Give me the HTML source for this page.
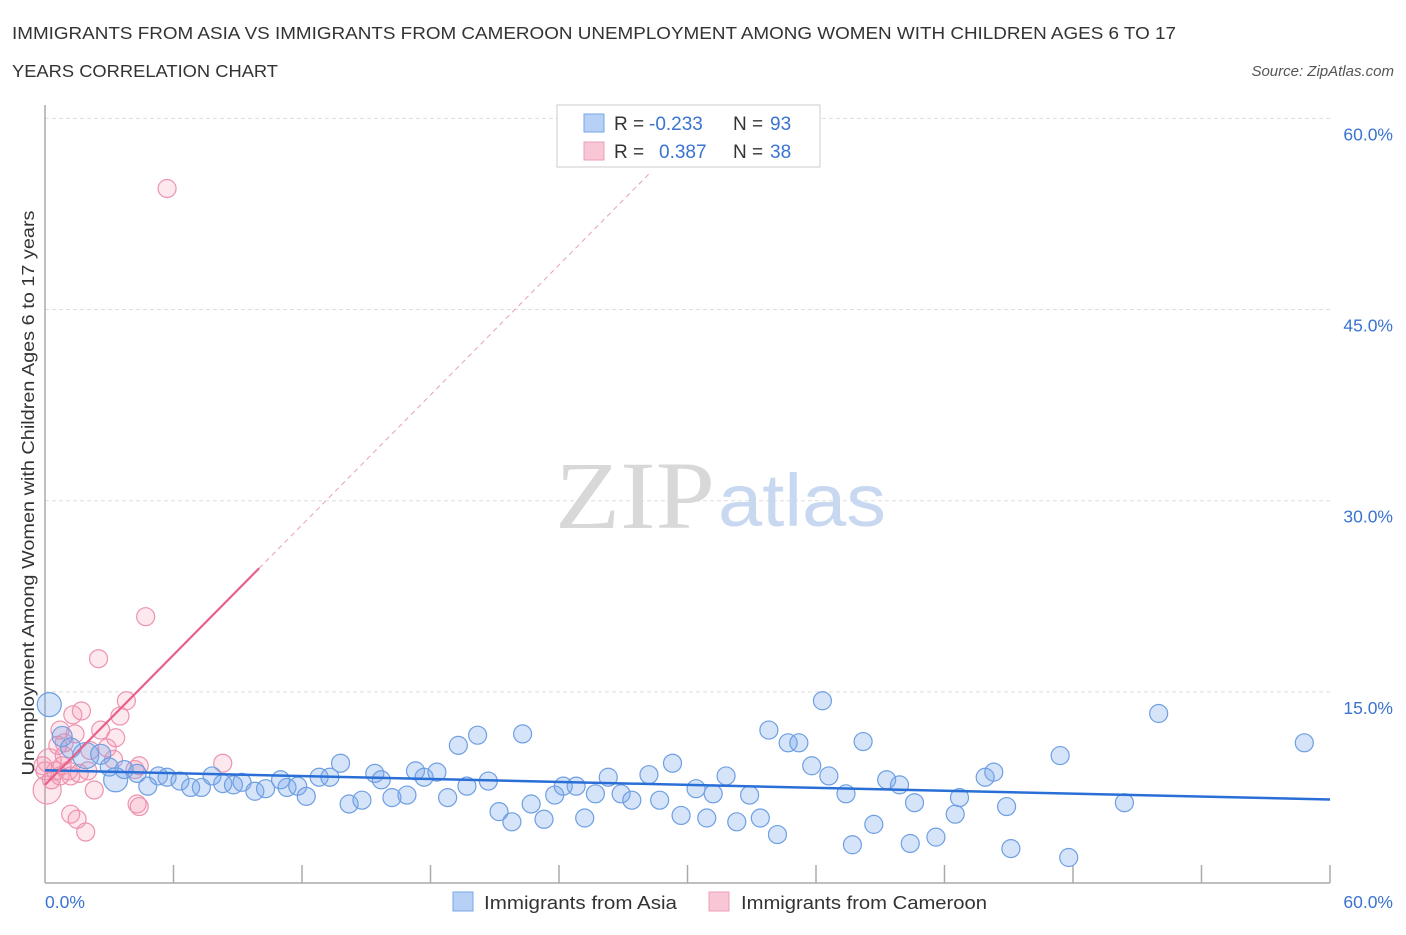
<!DOCTYPE html>
<html><head><meta charset="utf-8"><style>
body{margin:0;background:#fff;font-family:"Liberation Sans",sans-serif;}
</style></head><body>
<svg width="1406" height="930" xmlns="http://www.w3.org/2000/svg">
<text x="12" y="39" font-size="17.5" fill="#333" textLength="1164" lengthAdjust="spacingAndGlyphs">IMMIGRANTS FROM ASIA VS IMMIGRANTS FROM CAMEROON UNEMPLOYMENT AMONG WOMEN WITH CHILDREN AGES 6 TO 17</text>
<text x="12" y="77" font-size="17.5" fill="#333" textLength="266" lengthAdjust="spacingAndGlyphs">YEARS CORRELATION CHART</text>
<text x="1394" y="76" font-size="15" fill="#555" font-style="italic" text-anchor="end">Source: ZipAtlas.com</text>
<g id="grid"></g>
<g>
<text x="555" y="528" font-size="96" font-family="Liberation Serif,serif" fill="#d8d8d8" textLength="160" lengthAdjust="spacingAndGlyphs">ZIP</text>
<text x="718" y="526" font-size="74" fill="#c8d8f0" textLength="168" lengthAdjust="spacingAndGlyphs">atlas</text>
</g>
<line x1="45" y1="105" x2="45" y2="883" stroke="#aaa" stroke-width="1.5"/>
<line x1="45" y1="883" x2="1330" y2="883" stroke="#aaa" stroke-width="1.5"/>
<g id="ticks"></g>
<g id="pts"></g>
<g id="lines"></g>
<text transform="translate(34,493) rotate(-90)" font-size="17.5" fill="#333" text-anchor="middle" textLength="565" lengthAdjust="spacingAndGlyphs">Unemployment Among Women with Children Ages 6 to 17 years</text>
<text x="45" y="908" font-size="17.5" fill="#3a73d0">0.0%</text>
<text x="1393" y="908" font-size="17.5" fill="#3a73d0" text-anchor="end">60.0%</text>
<g>
<rect x="557" y="105" width="263" height="62" fill="#fff" stroke="#ccc"/>
<rect x="584" y="114" width="20" height="18" fill="#b7d0f5" stroke="#7aa6e8"/>
<rect x="584" y="142" width="20" height="18" fill="#f9c6d5" stroke="#ee9fb8"/>
<text x="614" y="130" font-size="19" fill="#333">R =</text>
<text x="649" y="130" font-size="19" fill="#3a73d0">-0.233</text>
<text x="733" y="130" font-size="19" fill="#333">N =</text>
<text x="770" y="130" font-size="19" fill="#3a73d0">93</text>
<text x="614" y="158" font-size="19" fill="#333">R =</text>
<text x="659" y="158" font-size="19" fill="#3a73d0">0.387</text>
<text x="733" y="158" font-size="19" fill="#333">N =</text>
<text x="770" y="158" font-size="19" fill="#3a73d0">38</text>
</g>
<g>
<rect x="453" y="892" width="20" height="19" fill="#b7d0f5" stroke="#7aa6e8"/>
<text x="484" y="909" font-size="18.5" fill="#333" textLength="193" lengthAdjust="spacingAndGlyphs">Immigrants from Asia</text>
<rect x="709" y="892" width="20" height="19" fill="#f9c6d5" stroke="#ee9fb8"/>
<text x="741" y="909" font-size="18.5" fill="#333" textLength="246" lengthAdjust="spacingAndGlyphs">Immigrants from Cameroon</text>
</g>
</svg>
<script>
const yTicks=[15,30,45,60];
const xTicks=[6,12,18,24,30,36,42,48,54,60];
const asiaX=[0.2,0.8,1.2,1.9,2.6,3,3.3,3.7,4.3,4.8,5.3,5.7,6.3,6.8,7.3,7.8,8.3,8.8,9.2,9.8,10.3,11,11.3,11.8,12.2,12.8,13.3,13.8,14.2,14.8,15.4,15.7,16.2,16.9,17.3,17.7,18.3,18.8,19.3,19.7,20.2,20.7,21.2,21.8,22.3,22.7,23.3,23.8,24.2,24.8,25.2,25.7,26.3,26.9,27.4,28.2,28.7,29.3,29.7,30.4,30.9,31.2,31.8,32.3,32.9,33.4,33.8,34.2,34.7,35.2,35.8,36.3,36.6,37.4,37.7,38.2,38.7,39.3,39.9,40.4,40.6,41.6,42.5,42.7,43.9,44.3,44.9,45.1,47.4,47.8,50.4,52,58.8];
const asiaY=[14.0,11.5,10.6,10.0,10.1,9.1,8.1,8.9,8.6,7.6,8.4,8.3,8.0,7.5,7.5,8.4,7.8,7.7,7.9,7.2,7.4,8.1,7.5,7.6,6.8,8.3,8.3,9.4,6.2,6.5,8.6,8.1,6.7,6.9,8.8,8.3,8.7,6.7,10.8,7.6,11.6,8.0,5.6,4.8,11.7,6.2,5.0,6.9,7.6,7.6,5.1,7.0,8.3,7.0,6.5,8.5,6.5,9.4,5.3,7.4,5.1,7.0,8.4,4.8,6.9,5.1,12.0,3.8,11.0,11.0,9.2,14.3,8.4,7.0,3.0,11.1,4.6,8.1,7.7,3.1,6.3,3.6,5.4,6.7,8.3,8.7,6.0,2.7,10.0,2.0,6.3,13.3,11.0];
const asiaR=[12,10,10,13,10,9,12,9,9,9,9,9,9,9,9,9,9,9,9,9,9,9,9,9,9,9,9,9,9,9,9,9,9,9,9,9,9,9,9,9,9,9,9,9,9,9,9,9,9,9,9,9,9,9,9,9,9,9,9,9,9,9,9,9,9,9,9,9,9,9,9,9,9,9,9,9,9,9,9,9,9,9,9,9,9,9,9,9,9,9,9,9,9];
const camX=[5.7,4.7,2.5,3.8,3.5,1.7,1.3,0.7,2.6,3.3,1.4,0.9,2.1,0.2,0.5,0,0.8,1.2,0.1,0.7,1.6,2.3,3.2,4.4,8.3,1.2,1.5,4.3,4.4,1.9,0.6,0.9,2.9,4.2,0.3,-0.1,1.1,2.0];
const camY=[54.5,20.9,17.6,14.3,13.1,13.5,13.2,12.0,12.0,11.4,11.7,11.0,10.4,9.6,8.8,8.8,9.2,8.4,7.3,8.4,8.6,7.3,9.7,9.2,9.4,5.4,5.0,6.2,6.0,4.0,10.8,10.0,10.6,8.9,8.1,9.2,8.8,8.8];
const camR=[9,9,9,9,9,9,9,9,9,9,9,9,9,12,9,9,9,9,14,9,9,9,9,9,9,9,9,9,9,9,9,9,9,9,9,9,9,9];
const asiaTrend=[8.85,6.55];
const camTrend=[7.7,24.7];
const X=v=>45+v*(1285/60), Y=v=>883-v*(764.6/60);
const NS='http://www.w3.org/2000/svg';
function mk(t,a,p){const e=document.createElementNS(NS,t);for(const k in a)e.setAttribute(k,a[k]);p.appendChild(e);return e;}
const grid=document.getElementById('grid');
yTicks.forEach(v=>{
 const l=mk('line',{x1:45,x2:1330,y1:Y(v),y2:Y(v),stroke:'#ddd','stroke-dasharray':'4,3'},grid);
 
 
 const t=mk('text',{x:1393,y:Y(v)+22,'font-size':'17.5',fill:'#3a73d0','text-anchor':'end'},grid);
 t.textContent=v.toFixed(1)+'%';
 
 
});
const tk=document.getElementById('ticks');
xTicks.forEach(v=>{
 const l=mk('line',{x1:X(v),x2:X(v),y1:865,y2:883,stroke:'#aaa','stroke-width':1.5},tk);
 
 
});
const pts=document.getElementById('pts');
camX.forEach((x,i)=>{
 const c=mk('circle',{cx:X(x),cy:Y(camY[i]),r:camR[i],fill:'rgba(244,150,178,0.22)',stroke:'#ec93b0','stroke-width':1.2},pts);
 
 
});
asiaX.forEach((x,i)=>{
 const c=mk('circle',{cx:X(x),cy:Y(asiaY[i]),r:asiaR[i],fill:'rgba(120,165,235,0.3)',stroke:'#6e9fe2','stroke-width':1.2},pts);
 
 
});
const ln=document.getElementById('lines');
const a=mk('line',{x1:X(0),y1:Y(asiaTrend[0]),x2:X(60),y2:Y(asiaTrend[1]),stroke:'#2a6fd6','stroke-width':2.5},ln);


const s=(camTrend[1]-camTrend[0])/10;
const c1=mk('line',{x1:X(0),y1:Y(camTrend[0]),x2:X(10),y2:Y(camTrend[1]),stroke:'#e8608a','stroke-width':2.2},ln);


const c2=mk('line',{x1:X(10),y1:Y(camTrend[1]),x2:X(28.3),y2:Y(camTrend[0]+s*28.3),stroke:'#e8a0b8','stroke-width':1,'stroke-dasharray':'5,4'},ln);


</script>
</body></html>
